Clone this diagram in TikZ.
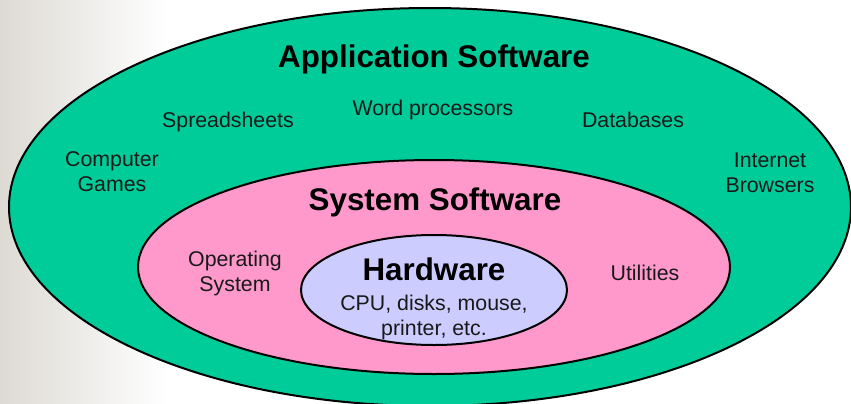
\documentclass[tikz,border=0pt]{standalone}
\usepackage{fontspec}
\setmainfont{Liberation Sans}
\definecolor{appgreen}{RGB}{0,204,153}
\definecolor{syspink}{RGB}{255,153,204}
\definecolor{hwblue}{RGB}{204,204,255}
\definecolor{sidegrey}{RGB}{221,218,212}
\tikzset{
  ring/.style={draw=black,line width=1.5},
  layertitle/.style={font=\fontsize{23.5}{28}\selectfont\bfseries,inner sep=0.75pt,anchor=base},
  itemtext/.style={font=\fontsize{16}{18.75}\selectfont,inner sep=0.75pt,anchor=base,align=center,text=black!90},
}

\begin{document}
\begin{tikzpicture}[x=0.75pt,y=0.75pt,yscale=-1,xscale=1]
	\clip (0,0) rectangle (851,404);
	% grey fade on the left
	\foreach \i in {0,3,...,165} {
		\pgfmathsetmacro\fade{100-\i/1.65}
		\fill [sidegrey!\fade!white] (\i,0) rectangle (\i+3.5,404);
	}
	\draw [ring, fill=appgreen] (430,207) ellipse [x radius=421, y radius=199];
	\draw [ring, fill=syspink] (434,267) ellipse [x radius=296, y radius=107];
	\draw [ring, fill=hwblue] (434,290) ellipse [x radius=133, y radius=55];
	% labels, base = last line
	\draw (434,67) node (appsw) [layertitle] {Application Software};
	\draw (433,115) node (wordproc) [itemtext] {Word processors};
	\draw (228,127) node (sheets) [itemtext] {Spreadsheets};
	\draw (633,127) node (dbases) [itemtext] {Databases};
	\draw (112,191) node (games) [itemtext] {Computer\\Games};
	\draw (770,192) node (browsers) [itemtext] {Internet\\Browsers};
	\draw (435,210) node (syssw) [layertitle] {System Software};
	\draw (235,291) node (opsys) [itemtext] {Operating\\System};
	\draw (645,280) node (utils) [itemtext] {Utilities};
	\draw (434,280) node (hw) [layertitle] {Hardware};
	\draw (434,335) node (hwparts) [itemtext] {CPU, disks, mouse,\\printer, etc.};
\end{tikzpicture}
\end{document}
